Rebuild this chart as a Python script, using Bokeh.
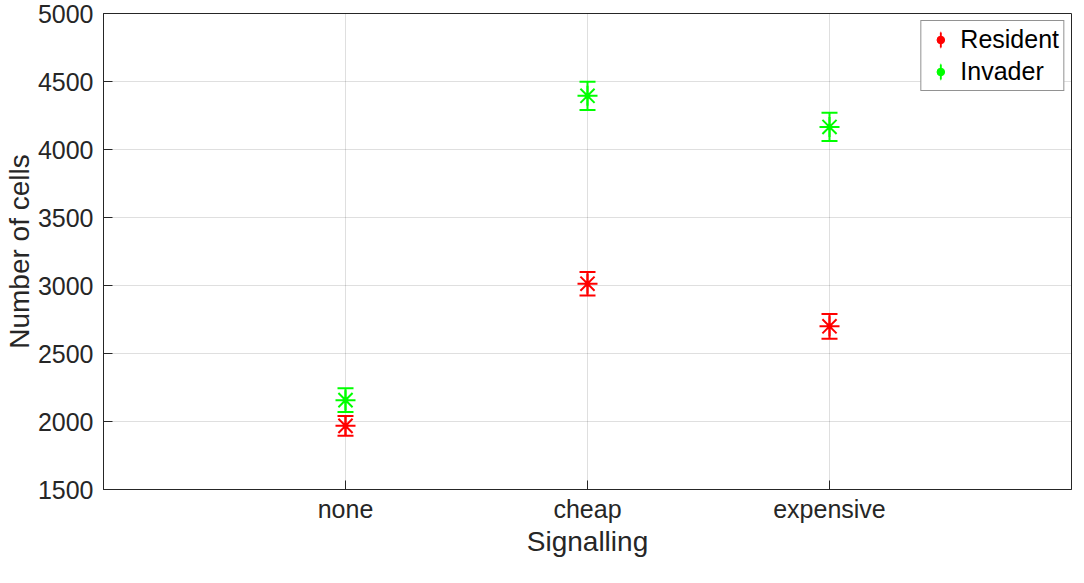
from bokeh.plotting import figure
from bokeh.models import (ColumnDataSource, Range1d, FixedTicker,
                          Whisker, TeeHead, Legend, LegendItem)
from bokeh.embed import file_html
from bokeh.resources import INLINE

categories = ["none", "cheap", "expensive"]
cat_pos = [1, 2, 3]
resident_mean = [1968, 3013, 2700]
resident_err = [72, 86, 91]
invader_mean = [2157, 4395, 4166]
invader_err = [87, 104, 104]
y_ticks = [1500, 2000, 2500, 3000, 3500, 4000, 4500, 5000]

FONT = "Liberation Sans"
AX = "#262626"

p = figure(frame_width=968, frame_height=476,
           x_range=Range1d(0, 4), y_range=Range1d(1500, 5000),
           output_backend="svg", toolbar_location=None,
           min_border_left=0, min_border_right=1, min_border_top=13, min_border_bottom=0,
           x_axis_label="Signalling", y_axis_label="Number of cells")
p.background_fill_color = "white"
p.border_fill_color = "white"
p.outline_line_color = AX
p.outline_line_width = 1

xa = p.xaxis[0]
xa.ticker = FixedTicker(ticks=cat_pos)
xa.major_label_overrides = {pos: lab for pos, lab in zip(cat_pos, categories)}
ya = p.yaxis[0]
ya.ticker = FixedTicker(ticks=y_ticks)
for ax in (xa, ya):
    ax.axis_line_color = AX
    ax.major_tick_line_color = AX
    ax.major_tick_in = 9
    ax.major_tick_out = 0
    ax.minor_tick_line_color = None
    ax.major_label_text_font = FONT
    ax.major_label_text_font_size = "25px"
    ax.major_label_text_color = AX
    ax.axis_label_text_font = FONT
    ax.axis_label_text_font_size = "28px"
    ax.axis_label_text_font_style = "normal"
    ax.axis_label_text_color = AX
xa.major_label_standoff = 5
xa.axis_label_standoff = 0
ya.major_label_standoff = 10
ya.axis_label_standoff = 0

p.xgrid.ticker = FixedTicker(ticks=cat_pos)
p.ygrid.ticker = FixedTicker(ticks=y_ticks)
for g in (p.xgrid[0], p.ygrid[0]):
    g.grid_line_color = AX
    g.grid_line_alpha = 0.15
    g.grid_line_width = 1


def series(means, errs, color):
    src = ColumnDataSource(dict(
        x=cat_pos, y=means,
        upper=[m + e for m, e in zip(means, errs)],
        lower=[m - e for m, e in zip(means, errs)]))
    w = Whisker(source=src, base="x", upper="upper", lower="lower", dimension="height",
                line_color=color, line_width=2,
                upper_head=TeeHead(size=16, line_color=color, line_width=2),
                lower_head=TeeHead(size=16, line_color=color, line_width=2))
    p.add_layout(w)
    p.scatter(x="x", y="y", source=src, marker="asterisk", size=20,
              line_color=color, line_width=2)
    # legend-only icon: a thin vertical stroke (error bar); NaN position -> not drawn in plot
    bar = p.ellipse(x=[float("nan")], y=[float("nan")], width=1, height=100,
                    width_units="screen", height_units="screen",
                    fill_color=None, line_color=color, line_width=2)
    dot = p.scatter(x="x", y="y", source=src, marker="circle", size=5,
                    fill_color=color, line_color=color)
    return [bar, dot]


icon_res = series(resident_mean, resident_err, "#ff0000")
icon_inv = series(invader_mean, invader_err, "#00ff00")

legend = Legend(items=[LegendItem(label="Resident", renderers=icon_res),
                       LegendItem(label="Invader", renderers=icon_inv)],
                location="top_right", margin=7, padding=4, spacing=3,
                glyph_width=30, glyph_height=19, label_height=24, label_standoff=5,
                label_text_font=FONT, label_text_font_size="25px", label_text_color="black",
                border_line_color=AX, border_line_width=1, background_fill_color="white",
                background_fill_alpha=1)
p.add_layout(legend)

open("out.html", "w").write(file_html(p, INLINE))
